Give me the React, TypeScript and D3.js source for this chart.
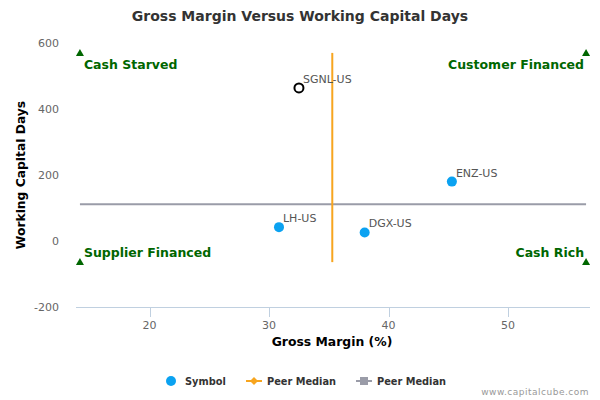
import React from "react";
import * as d3 from "d3";

const symbols = ["SGNL-US", "ENZ-US", "LH-US", "DGX-US"];
const grossMargin = [32.5, 45.3, 30.83, 38.0];
const wcDays = [464, 180, 42, 26];
const highlighted = [true, false, false, false];

const medianX = 35.29;
const medianY = 111;
const quadX = [14.17, 56.53];
const quadY = [570, -64];
const quadLabels = ["Cash Starved", "Customer Financed", "Supplier Financed", "Cash Rich"];

const xTicks = [20, 30, 40, 50];
const yTicks = [-200, 0, 200, 400, 600];

const W = 600;
const H = 400;
const left = 76;
const right = 590;
const top = 43;
const bottom = 307;

const FONT = "'DejaVu Sans', sans-serif";
const GREEN = "#006600";

export default function App() {
  const x = d3.scaleLinear().domain([13.84, 56.86]).range([left, right]);
  const y = d3.scaleLinear().domain([-200, 600]).range([bottom, top]);

  const tri = (cx: number, cy: number) => {
    const p = d3.path();
    p.moveTo(cx, cy - 4);
    p.lineTo(cx + 4, cy + 3);
    p.lineTo(cx - 4, cy + 3);
    p.closePath();
    return p.toString();
  };

  const quads = [
    { qx: quadX[0], qy: quadY[0], label: quadLabels[0], anchor: "start", dx: 4, dy: 16 },
    { qx: quadX[1], qy: quadY[0], label: quadLabels[1], anchor: "end", dx: -2, dy: 16 },
    { qx: quadX[0], qy: quadY[1], label: quadLabels[2], anchor: "start", dx: 4, dy: -5 },
    { qx: quadX[1], qy: quadY[1], label: quadLabels[3], anchor: "end", dx: -2, dy: -5 },
  ];

  return (
    <svg
      width={W}
      height={H}
      style={{ position: "absolute", left: 0, top: 0, background: "#fff" }}
      fontFamily={FONT}
    >
      <rect width={W} height={H} fill="#fff" />
      <text x={300} y={21} textAnchor="middle" fontSize={14} fontWeight="bold" fill="#333">
        Gross Margin Versus Working Capital Days
      </text>

      {/* y ticks */}
      {yTicks.map((t) => (
        <text key={t} x={59} y={y(t) + 4} textAnchor="end" fontSize={11} fill="#666">
          {t}
        </text>
      ))}
      <text
        transform={`translate(25,${(top + bottom) / 2}) rotate(-90)`}
        textAnchor="middle"
        fontSize={12.3}
        fontWeight="bold"
        fill="#000"
      >
        Working Capital Days
      </text>

      {/* x axis */}
      <line x1={left} x2={right} y1={bottom + 0.5} y2={bottom + 0.5} stroke="#c0d0e0" strokeWidth={1} />
      {xTicks.map((t) => (
        <g key={t}>
          <line x1={Math.round(x(t)) + 0.5} x2={Math.round(x(t)) + 0.5} y1={bottom} y2={bottom + 10} stroke="#c0d0e0" />
          <text x={x(t)} y={bottom + 22} textAnchor="middle" fontSize={11} fill="#666">
            {t}
          </text>
        </g>
      ))}
      <text x={332} y={346} textAnchor="middle" fontSize={12.4} fontWeight="bold" fill="#000">
        Gross Margin (%)
      </text>

      {/* medians */}
      <line x1={x(quadX[0])} x2={x(quadX[1])} y1={y(medianY)} y2={y(medianY)} stroke="#9a9ca8" strokeWidth={2} />
      <line x1={x(medianX)} x2={x(medianX)} y1={y(quadY[0])} y2={y(quadY[1])} stroke="#f7a51f" strokeWidth={2} />

      {/* quadrant markers */}
      {quads.map((q) => (
        <g key={q.label}>
          <path d={tri(x(q.qx), y(q.qy))} fill={GREEN} />
          <text
            x={x(q.qx) + q.dx}
            y={y(q.qy) + q.dy}
            textAnchor={q.anchor}
            fontSize={12.5}
            fontWeight="bold"
            fill={GREEN}
          >
            {q.label}
          </text>
        </g>
      ))}

      {/* points */}
      {symbols.map((s, i) => (
        <g key={s}>
          {highlighted[i] ? (
            <circle cx={x(grossMargin[i])} cy={y(wcDays[i])} r={4.5} fill="#fff" stroke="#000" strokeWidth={2} />
          ) : (
            <circle cx={x(grossMargin[i])} cy={y(wcDays[i])} r={5} fill="#0ba2f1" />
          )}
          <text x={x(grossMargin[i]) + 4} y={y(wcDays[i]) - 5} fontSize={11} fill="#555">
            {s}
          </text>
        </g>
      ))}

      {/* legend */}
      <g fontSize={9.8} fontWeight="bold" fill="#333">
        <circle cx={171} cy={381} r={5} fill="#0ba2f1" />
        <text x={185} y={385}>Symbol</text>
        <line x1={246} x2={262} y1={381} y2={381} stroke="#f7a51f" strokeWidth={2} />
        <path d="M254,377 L258,381 L254,385 L250,381 Z" fill="#f7a51f" />
        <text x={267} y={385}>Peer Median</text>
        <line x1={356} x2={372} y1={381} y2={381} stroke="#9a9ca8" strokeWidth={2} />
        <rect x={360} y={377} width={8} height={8} fill="#9a9ca8" />
        <text x={377} y={385}>Peer Median</text>
      </g>
      <text x={589} y={395} textAnchor="end" fontSize={9} fill="#999" letterSpacing={0.5}>
        www.capitalcube.com
      </text>
    </svg>
  );
}
